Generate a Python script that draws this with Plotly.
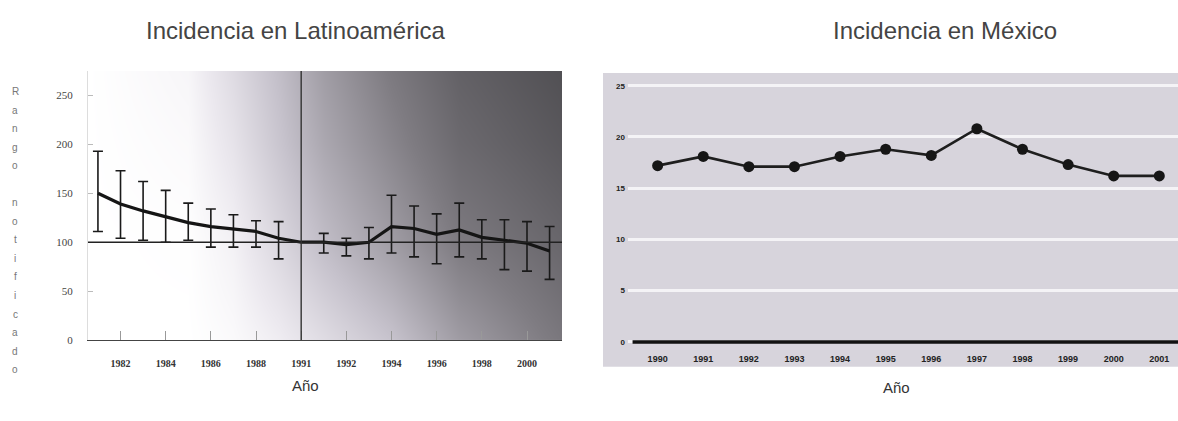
import plotly.graph_objects as go

# ---------------- data ----------------
lat_years = list(range(1981, 2002))
lat_values = [150, 139, 132, 126, 120, 116, 113.5, 111, 104, 100,
              100, 97.5, 100, 116, 114, 108, 112.5, 105, 102, 99, 91]
lat_upper = [193, 173, 162, 153, 140, 134, 128, 122, 121, 100,
             109, 104, 115, 148, 137, 129, 140, 123, 123, 121, 116]
lat_lower = [111, 104, 102, 100, 102, 95, 95, 95, 83, 100,
             89, 86, 83, 89, 85, 78, 85, 83, 72, 70.5, 62]
lat_ref_level = 100
lat_ref_year = 1990
lat_tick_vals = [1982, 1984, 1986, 1988, 1990, 1992, 1994, 1996, 1998, 2000]
lat_tick_text = ["1982", "1984", "1986", "1988", "1991", "1992", "1994", "1996", "1998", "2000"]

mex_years = list(range(1990, 2002))
mex_values = [17.2, 18.1, 17.1, 17.1, 18.1, 18.8, 18.2, 20.8, 18.8, 17.3, 16.2, 16.2]

ylabel_letters = list("Rango notificado")

# background shading (style) for the left panel: gray levels
bg_x = [1980.5, 1985, 1987, 1989, 1991, 1994, 1997, 2001.6]
bg_y = [0, 100, 200, 280]
bg_z = [
    [255, 255, 250, 238, 220, 192, 150, 108],
    [255, 254, 242, 214, 185, 150, 112, 85],
    [255, 250, 228, 195, 162, 125, 90, 66],
    [255, 246, 218, 186, 150, 110, 78, 55],
]

W, H = 1178, 421


def px(x):
    return x / W


def py(y):
    return 1 - y / H


fig = go.Figure()

# left background gradient
fig.add_trace(go.Heatmap(
    x=bg_x, y=bg_y, z=bg_z, zsmooth="best", zmin=0, zmax=255,
    colorscale=[[0, "#262628"], [0.45, "#7f7c82"], [0.75, "#c6c2cc"], [0.92, "#ece9ef"], [1, "#ffffff"]],
    showscale=False, hoverinfo="skip", xaxis="x", yaxis="y"))

# left series with error bars
fig.add_trace(go.Scatter(
    x=lat_years, y=lat_values, mode="lines",
    line=dict(color="#151515", width=3.2),
    error_y=dict(type="data", symmetric=False,
                 array=[u - v for u, v in zip(lat_upper, lat_values)],
                 arrayminus=[v - l for v, l in zip(lat_values, lat_lower)],
                 color="#1a1a1a", thickness=1.6, width=5),
    hoverinfo="skip", xaxis="x", yaxis="y"))

# right series
fig.add_trace(go.Scatter(
    x=mex_years, y=mex_values, mode="lines+markers",
    line=dict(color="#1e1e1e", width=2.6),
    marker=dict(color="#161616", size=11),
    hoverinfo="skip", xaxis="x2", yaxis="y2"))

shapes = [
    # right panel background
    dict(type="rect", xref="paper", yref="paper",
         x0=px(603), x1=1.0, y0=py(372), y1=py(74),
         fillcolor="#d7d4dc", line=dict(width=0), layer="below"),
    # left reference lines
    dict(type="line", xref="x", yref="y", x0=1980.56, x1=2001.55,
         y0=lat_ref_level, y1=lat_ref_level,
         line=dict(color="#222", width=1.6), layer="above"),
    dict(type="line", xref="x", yref="y", x0=lat_ref_year, x1=lat_ref_year,
         y0=0, y1=275, line=dict(color="#333", width=1.4), layer="above"),
    # right baseline
    dict(type="line", xref="x2", yref="y2", x0=1989.45, x1=2001.45, y0=0, y1=0,
         line=dict(color="#111", width=3.5), layer="above"),
]


def ann(text, x, y, size, color):
    return dict(text=text, x=px(x), y=py(y), xref="paper", yref="paper",
                xanchor="center", yanchor="middle", showarrow=False,
                font=dict(family="Liberation Sans", size=size, color=color))


annotations = [
    ann("Incidencia en Latinoamérica", 296, 31, 24, "#444"),
    ann("Incidencia en México", 945, 31, 24, "#444"),
    ann("Año", 305, 391, 15, "#333"),
    ann("Año", 896, 393, 15, "#333"),
]
for i, ch in enumerate(ylabel_letters):
    if ch.strip():
        annotations.append(ann(ch, 15, 93 + i * 18.8, 10, "#777"))

fig.update_layout(
    width=W, height=H, margin=dict(l=0, r=0, t=0, b=0),
    paper_bgcolor="white", plot_bgcolor="rgba(0,0,0,0)",
    showlegend=False,
    shapes=shapes, annotations=annotations,
    xaxis=dict(domain=[px(88), px(562)], range=[1980.56, 2001.55],
               tickvals=lat_tick_vals, ticktext=["<b>%s</b>" % t for t in lat_tick_text],
               ticks="inside", ticklen=9, tickcolor="#999", tickwidth=1,
               showgrid=False, zeroline=False, showline=True, linecolor="#444", linewidth=1.2,
               tickfont=dict(family="Liberation Serif", size=10, color="#333"),
               ticklabelstandoff=14, anchor="y"),
    yaxis=dict(domain=[py(345), py(72)], range=[0, 275],
               tickvals=[0, 50, 100, 150, 200, 250],
               ticks="inside", ticklen=5, tickcolor="#bbb",
               showgrid=False, zeroline=False, showline=True, linecolor="#ddd", linewidth=1,
               tickfont=dict(family="Liberation Serif", size=11, color="#444"),
               ticklabelstandoff=12, anchor="x"),
    xaxis2=dict(domain=[px(628), 1.0], range=[1989.35, 2001.41],
                tickvals=mex_years, ticktext=["<b>%d</b>" % y for y in mex_years],
                ticks="", showgrid=False, zeroline=False, showline=False,
                tickfont=dict(family="Liberation Sans Narrow, Liberation Sans", size=9, color="#222"),
                ticklabelstandoff=6, anchor="y2"),
    yaxis2=dict(domain=[py(351), py(75)], range=[-0.4, 26.15],
                tickvals=[0, 5, 10, 15, 20, 25], ticktext=["<b>%d</b>" % v for v in [0, 5, 10, 15, 20, 25]],
                ticks="", showgrid=True, gridcolor="#f4f3f6", gridwidth=3,
                zeroline=False, showline=False,
                tickfont=dict(family="Liberation Sans", size=8, color="#222"),
                ticklabelstandoff=2, anchor="x2"),
)

fig.write_html("out.html")
